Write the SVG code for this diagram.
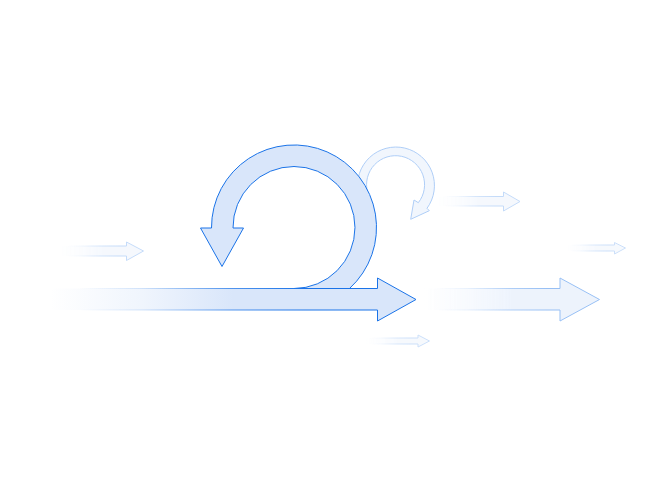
<svg xmlns="http://www.w3.org/2000/svg" width="650" height="480" viewBox="0 0 650 480">
<defs>
<linearGradient id="fillFade" x1="0" y1="0" x2="1" y2="0"><stop offset="0" stop-color="#d9e6fa" stop-opacity="0"/><stop offset="0.25" stop-color="#d9e6fa" stop-opacity="0.4"/><stop offset="0.5" stop-color="#d9e6fa"/></linearGradient>
<linearGradient id="strokeFade" x1="0" y1="0" x2="1" y2="0"><stop offset="0.08" stop-color="#1a73e8" stop-opacity="0"/><stop offset="0.25" stop-color="#1a73e8" stop-opacity="0.18"/><stop offset="0.5" stop-color="#1a73e8" stop-opacity="0.75"/><stop offset="0.7" stop-color="#1a73e8"/></linearGradient>
</defs>
<style>
.fade{fill:url(#fillFade);stroke:url(#strokeFade);stroke-width:1}
.solid{fill:#d9e6fa;stroke:#1a73e8;stroke-width:1}
</style>
<rect width="650" height="480" fill="#ffffff"/>
<g id="arrow-left" class="fade" opacity="0.25"><path d="M60,246H126.5V242L143.5,251L126.5,260.5V256H60Z"/></g>
<g id="arrow-top-right" class="fade" opacity="0.25"><path d="M437,196.500H503.500V192L520,201.500L503.500,211V206H437Z"/></g>
<g id="arrow-far-right" class="fade" opacity="0.22"><path d="M565,245H614.500V242.500L625.500,248L614.500,254V251H565Z"/></g>
<g id="arrow-bottom" class="fade" opacity="0.22"><path d="M365,338H418V335L429.500,341L418,347V344H365Z"/></g>
<g id="arrow-right" class="fade" opacity="0.45"><path d="M422,288.500H560V278L599.500,299.500L560,321V310H422Z"/></g>
<g id="loop-small" class="solid" opacity="0.35"><path d="M410.700,219.300L414,200L418.300,202.700A29,29 0 1 0 367.500,192L358,192A38.500,38.500 0 1 1 427,208.300L429.300,210.700Z"/></g>
<g id="loop-main" class="solid"><path d="M294,288.500A61,61 0 0 0 294,166.500A61,61 0 0 0 233,228H243.500L222,266.500L200.500,228H211.500A82.500,82.500 0 1 1 349.500,288.500Z"/></g>
<g id="arrow-main" class="fade"><path d="M50,288.500H377.500V278L416,299.500L377.500,321V310H50Z"/></g>
</svg>
